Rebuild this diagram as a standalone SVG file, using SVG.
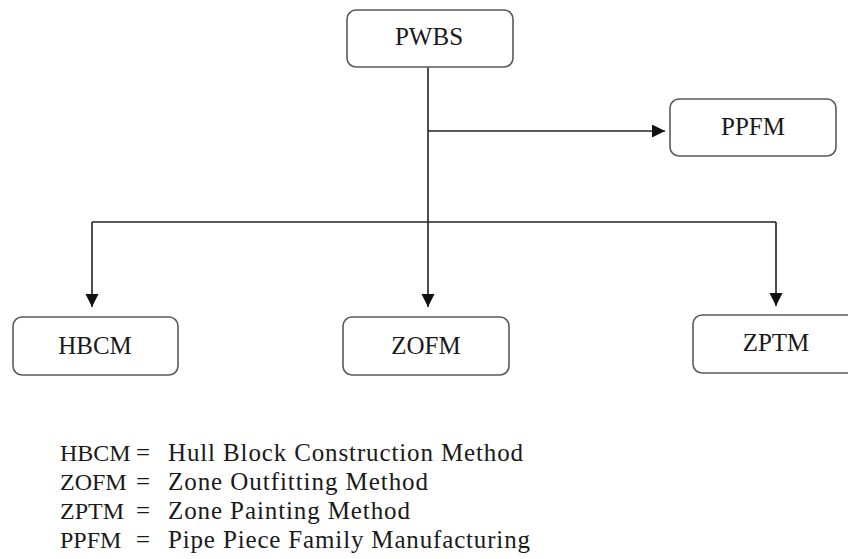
<svg xmlns="http://www.w3.org/2000/svg" width="848" height="559" viewBox="0 0 848 559">
<defs>
<marker id="arr" markerUnits="userSpaceOnUse" markerWidth="14" markerHeight="14" refX="13" refY="6.5" orient="auto">
<path d="M0,0 L13,6.5 L0,13 Z" fill="#111"/>
</marker>
<style>
.box{fill:#fff;stroke:#5a5a5a;stroke-width:1.6}
.lbl{font-family:'Liberation Serif','Times New Roman','DejaVu Serif',serif;font-size:25px;fill:#1a1a1a;text-anchor:middle}
.leg{font-family:'Liberation Serif','Times New Roman','DejaVu Serif',serif;font-size:25px;fill:#1a1a1a}
.ab{font-size:24px}
.con{fill:none;stroke:#222;stroke-width:1.6}
</style>
</defs>
<rect width="848" height="559" fill="#fff"/>
<g id="connectors">
<path class="con" d="M428,67 L428,307" marker-end="url(#arr)"/>
<path class="con" d="M428,131 L665,131" marker-end="url(#arr)"/>
<path class="con" d="M92,222 L776,222"/>
<path class="con" d="M92,222 L92,307" marker-end="url(#arr)"/>
<path class="con" d="M776,222 L776,306" marker-end="url(#arr)"/>
</g>
<g id="PWBS"><rect class="box" x="347" y="10" width="166" height="57" rx="9"/><text class="lbl" x="429" y="45">PWBS</text></g>
<g id="PPFM"><rect class="box" x="670" y="99" width="166" height="57" rx="9"/><text class="lbl" x="753" y="135">PPFM</text></g>
<g id="HBCM"><rect class="box" x="13" y="317" width="165" height="58" rx="9"/><text class="lbl" x="95" y="354">HBCM</text></g>
<g id="ZOFM"><rect class="box" x="343" y="317" width="166" height="58" rx="9"/><text class="lbl" x="426" y="354">ZOFM</text></g>
<g id="ZPTM"><rect class="box" x="693" y="315" width="166" height="58" rx="9"/><text class="lbl" x="776" y="351">ZPTM</text></g>
<g id="legend">
<text class="leg ab" x="60" y="461">HBCM</text><text class="leg" x="136" y="461">=</text><text class="leg" x="168" y="461" textLength="355" lengthAdjust="spacing">Hull Block Construction Method</text>
<text class="leg ab" x="60" y="490">ZOFM</text><text class="leg" x="136" y="490">=</text><text class="leg" x="168" y="490" textLength="260" lengthAdjust="spacing">Zone Outfitting Method</text>
<text class="leg ab" x="60" y="519">ZPTM</text><text class="leg" x="136" y="519">=</text><text class="leg" x="168" y="519" textLength="242" lengthAdjust="spacing">Zone Painting Method</text>
<text class="leg ab" x="60" y="548">PPFM</text><text class="leg" x="136" y="548">=</text><text class="leg" x="168" y="548" textLength="362" lengthAdjust="spacing">Pipe Piece Family Manufacturing</text>
</g>
</svg>
